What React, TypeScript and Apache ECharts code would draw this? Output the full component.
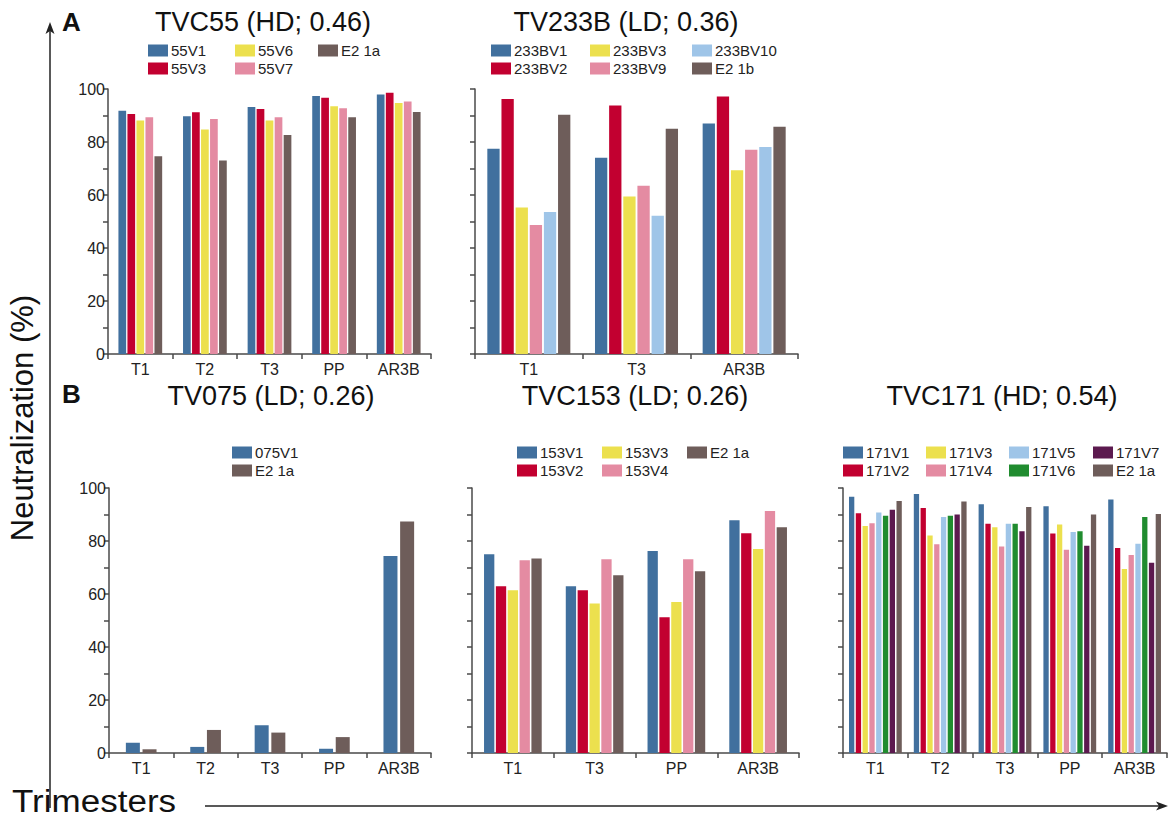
import React, { useEffect, useRef } from "react";
import * as echarts from "echarts";

// ---------- DATA ----------
const catsA1 = ["T1", "T2", "T3", "PP", "AR3B"];
const namesA1 = ["55V1", "55V3", "55V6", "55V7", "E2 1a"];
const valsA1 = [
  [91.8, 89.7, 93.2, 97.4, 97.9],
  [90.6, 91.2, 92.5, 96.7, 98.6],
  [88.1, 84.7, 88.1, 93.5, 94.7],
  [89.3, 88.7, 89.3, 92.7, 95.3],
  [74.6, 73.0, 82.6, 89.3, 91.3],
];

const catsA2 = ["T1", "T3", "AR3B"];
const namesA2 = ["233BV1", "233BV2", "233BV3", "233BV9", "233BV10", "E2 1b"];
const valsA2 = [
  [77.5, 74.1, 87.0],
  [96.2, 93.8, 97.2],
  [55.3, 59.4, 69.3],
  [48.7, 63.5, 77.1],
  [53.6, 52.2, 78.1],
  [90.3, 85.0, 85.8],
];

const catsB1 = ["T1", "T2", "T3", "PP", "AR3B"];
const namesB1 = ["075V1", "E2 1a"];
const valsB1 = [
  [3.9, 2.3, 10.5, 1.6, 74.3],
  [1.4, 8.7, 7.7, 6.0, 87.4],
];

const catsB2 = ["T1", "T3", "PP", "AR3B"];
const namesB2 = ["153V1", "153V2", "153V3", "153V4", "E2 1a"];
const valsB2 = [
  [75.0, 62.9, 76.2, 87.8],
  [62.9, 61.4, 51.2, 82.9],
  [61.4, 56.4, 57.0, 77.0],
  [72.7, 73.1, 73.1, 91.3],
  [73.4, 67.1, 68.6, 85.2],
];

const catsB3 = ["T1", "T2", "T3", "PP", "AR3B"];
const namesB3 = ["171V1", "171V2", "171V3", "171V4", "171V5", "171V6", "171V7", "E2 1a"];
const valsB3 = [
  [96.7, 97.7, 93.9, 93.1, 95.7],
  [90.5, 92.5, 86.5, 82.8, 77.4],
  [85.7, 82.1, 85.2, 86.2, 69.4],
  [86.7, 78.8, 77.9, 76.7, 74.7],
  [90.8, 89.1, 86.5, 83.4, 79.0],
  [89.5, 89.5, 86.5, 83.7, 89.1],
  [91.8, 90.0, 83.7, 78.2, 71.8],
  [95.1, 94.9, 92.8, 90.0, 90.2],
];

const yTicks = [0, 20, 40, 60, 80, 100];

// ---------- STYLE ----------
const C = {
  blue: "#41709e",
  red: "#c20030",
  yellow: "#ece04e",
  pink: "#e48ba2",
  brown: "#6e5d5a",
  lblue: "#9fc5e8",
  green: "#208c2f",
  purple: "#5c1a4f",
};
const colorsA1 = [C.blue, C.red, C.yellow, C.pink, C.brown];
const colorsA2 = [C.blue, C.red, C.yellow, C.pink, C.lblue, C.brown];
const colorsB1 = [C.blue, C.brown];
const colorsB2 = [C.blue, C.red, C.yellow, C.pink, C.brown];
const colorsB3 = [C.blue, C.red, C.yellow, C.pink, C.lblue, C.green, C.purple, C.brown];

const FONT = "Liberation Sans, Arial, sans-serif";
const AX = "#4a4a4a";

const panels = [
  { cats: catsA1, names: namesA1, vals: valsA1, colors: colorsA1, grid: { left: 108, top: 89, width: 323, height: 265 }, labels: true, barWidth: 7.7, barGap: "17%" },
  { cats: catsA2, names: namesA2, vals: valsA2, colors: colorsA2, grid: { left: 475, top: 89, width: 323, height: 265 }, labels: false, barWidth: 12.3, barGap: "15%" },
  { cats: catsB1, names: namesB1, vals: valsB1, colors: colorsB1, grid: { left: 109, top: 488, width: 322, height: 265 }, labels: true, barWidth: 14, barGap: "19%" },
  { cats: catsB2, names: namesB2, vals: valsB2, colors: colorsB2, grid: { left: 472, top: 488, width: 327, height: 265 }, labels: false, barWidth: 10.3, barGap: "15%" },
  { cats: catsB3, names: namesB3, vals: valsB3, colors: colorsB3, grid: { left: 843, top: 488, width: 324, height: 265 }, labels: false, barWidth: 5.3, barGap: "28%" },
];

const legendCols = [
  { names: ["55V1", "55V3"], left: 148, top: 43 },
  { names: ["55V6", "55V7"], left: 235, top: 43 },
  { names: ["E2 1a"], left: 318, top: 43 },
  { names: ["233BV1", "233BV2"], left: 491, top: 43 },
  { names: ["233BV3", "233BV9"], left: 590, top: 43 },
  { names: ["233BV10", "E2 1b"], left: 692, top: 43 },
  { names: ["075V1", "E2 1a"], left: 232, top: 445 },
  { names: ["153V1", "153V2"], left: 517, top: 445 },
  { names: ["153V3", "153V4"], left: 602, top: 445 },
  { names: ["E2 1a"], left: 687, top: 445 },
  { names: ["171V1", "171V2"], left: 843, top: 445 },
  { names: ["171V3", "171V4"], left: 926, top: 445 },
  { names: ["171V5", "171V6"], left: 1009, top: 445 },
  { names: ["171V7", "E2 1a"], left: 1093, top: 445 },
];

const titles = [
  { text: "TVC55 (HD; 0.46)", x: 263, y: 22 },
  { text: "TV233B (LD; 0.36)", x: 626, y: 22 },
  { text: "TV075 (LD; 0.26)", x: 271, y: 396 },
  { text: "TVC153 (LD; 0.26)", x: 635, y: 396 },
  { text: "TVC171 (HD; 0.54)", x: 1002, y: 396 },
];

function buildOption() {
  const grid: any[] = [];
  const xAxis: any[] = [];
  const yAxis: any[] = [];
  const series: any[] = [];
  panels.forEach((p, i) => {
    grid.push({ ...p.grid, containLabel: false });
    xAxis.push({
      type: "category",
      gridIndex: i,
      data: p.cats,
      boundaryGap: true,
      axisLine: { lineStyle: { color: AX, width: 1.5 } },
      axisTick: { show: true, length: 5, interval: 0, lineStyle: { color: AX, width: 1.5 } },
      axisLabel: { color: "#222", fontSize: 16, fontFamily: FONT, margin: 7, interval: 0, lineHeight: 16 },
      splitLine: { show: false },
    });
    yAxis.push({
      type: "value",
      gridIndex: i,
      min: 0,
      max: 100,
      interval: 10,
      axisLine: { show: true, lineStyle: { color: AX, width: 1.5 } },
      axisTick: { show: true, length: 5, lineStyle: { color: AX, width: 1.5 } },
      axisLabel: {
        show: p.labels,
        color: "#222",
        fontSize: 16,
        fontFamily: FONT,
        margin: 3,
        formatter: (v: number) => (yTicks.indexOf(v) >= 0 ? String(v) : ""),
      },
      splitLine: { show: false },
    });
    p.names.forEach((n, k) => {
      series.push({
        type: "bar",
        name: n,
        xAxisIndex: i,
        yAxisIndex: i,
        data: p.vals[k],
        barWidth: p.barWidth,
        barGap: p.barGap,
        itemStyle: { color: p.colors[k] },
        emphasis: { disabled: true },
      });
    });
  });

  const legend = legendCols.map((l) => ({
    data: l.names,
    orient: "vertical",
    left: l.left,
    top: l.top,
    padding: 0,
    itemWidth: 20,
    itemHeight: 12,
    itemGap: 3,
    icon: "rect",
    selectedMode: false,
    textStyle: { fontSize: 15, fontFamily: FONT, color: "#222", padding: [0, 0, 0, -2] },
  }));

  const graphic: any[] = [
    ...titles.map((t) => ({
      type: "text",
      x: t.x,
      y: t.y,
      style: { text: t.text, fontSize: 27, fontFamily: FONT, fill: "#111", align: "center", verticalAlign: "middle" },
    })),
    { type: "text", x: 62, y: 22, style: { text: "A", fontSize: 26, fontWeight: "bold", fontFamily: FONT, fill: "#111", verticalAlign: "middle" } },
    { type: "text", x: 62, y: 394, style: { text: "B", fontSize: 26, fontWeight: "bold", fontFamily: FONT, fill: "#111", verticalAlign: "middle" } },
    {
      type: "text",
      x: 22,
      y: 418,
      rotation: Math.PI / 2,
      style: { text: "Neutralization (%)", fontSize: 31, fontFamily: FONT, fill: "#111", align: "center", verticalAlign: "middle" },
    },
    { type: "text", x: 12, y: 801, scaleX: 1.13, style: { text: "Trimesters", fontSize: 31, fontFamily: FONT, fill: "#111", verticalAlign: "middle" } },
    { type: "line", shape: { x1: 50, y1: 808, x2: 50, y2: 30 }, style: { stroke: "#222", lineWidth: 1.5 } },
    { type: "polygon", shape: { points: [[50, 22], [45.5, 34], [50, 31], [54.5, 34]] }, style: { fill: "#222" } },
    { type: "line", shape: { x1: 205, y1: 806, x2: 1160, y2: 806 }, style: { stroke: "#222", lineWidth: 1.5 } },
    { type: "polygon", shape: { points: [[1168, 806], [1156, 801.5], [1159, 806], [1156, 810.5]] }, style: { fill: "#222" } },
  ];

  return { animation: false, backgroundColor: "#fff", grid, xAxis, yAxis, series, legend, graphic };
}

export default function App() {
  const ref = useRef<HTMLDivElement>(null);
  useEffect(() => {
    if (!ref.current) return;
    const chart = echarts.init(ref.current, undefined, { renderer: "svg" });
    chart.setOption(buildOption() as any);
    return () => chart.dispose();
  }, []);
  return <div ref={ref} style={{ position: "fixed", left: 0, top: 0, width: 1171, height: 818 }} />;
}
